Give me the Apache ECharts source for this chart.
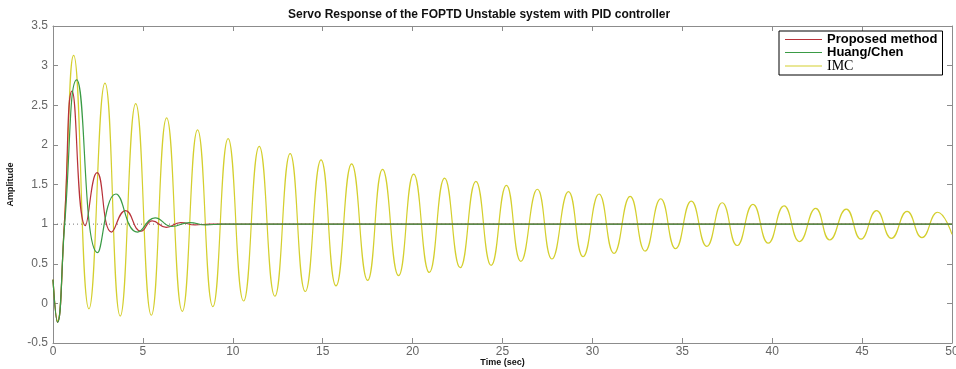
<!DOCTYPE html>
<html>
<head>
<meta charset="utf-8">
<script src="https://cdn.jsdelivr.net/npm/echarts@6/dist/echarts.min.js"></script>
<style>
  html, body { margin: 0; padding: 0; background: #fff; }
  #chart { width: 956px; height: 369px; }
</style>
</head>
<body>
<div id="chart"></div>
<script>
// [time (sec), amplitude]
const proposed = [
  [0, 0.3], [0.25, -0.24], [0.63, 1.0], [1.06, 2.68], [1.8, 0.98], [2.45, 1.65],
  [3.26, 0.9], [4.03, 1.17], [4.9, 0.91], [5.52, 1.04], [6.3, 0.96], [7.1, 1.02],
  [7.9, 0.99], [8.7, 1.0], [50, 1.0]
]
const huangChen = [
  [0, 0.3], [0.25, -0.24], [0.65, 1.0], [1.32, 2.82], [2.48, 0.64], [3.5, 1.38],
  [4.7, 0.9], [5.68, 1.08], [6.6, 0.97], [7.6, 1.02], [8.5, 0.99], [9.4, 1.0], [50, 1.0]
]
const imc = [
  [0, 0.3], [0.25, -0.22], [0.63, 1.0], [1.15, 3.13], [2.0, -0.07], [2.89, 2.78],
  [3.74, -0.16], [4.6, 2.52], [5.47, -0.15], [6.32, 2.34], [7.19, -0.1], [8.04, 2.19],
  [8.89, -0.04], [9.74, 2.08], [10.6, 0.03], [11.47, 1.98], [12.34, 0.09], [13.19, 1.89],
  [14.03, 0.15], [14.91, 1.81], [15.74, 0.22], [16.61, 1.76], [17.5, 0.29], [18.33, 1.69],
  [19.22, 0.35], [20.06, 1.63], [20.93, 0.39], [21.78, 1.58], [22.65, 0.45], [23.52, 1.54],
  [24.37, 0.48], [25.22, 1.49], [26.02, 0.53], [26.94, 1.44], [27.75, 0.56], [28.67, 1.41],
  [29.48, 0.59], [30.37, 1.38], [31.2, 0.63], [32.1, 1.35], [32.93, 0.66], [33.8, 1.32],
  [34.63, 0.69], [35.5, 1.29], [36.36, 0.72], [37.22, 1.27], [38.05, 0.73], [38.93, 1.25],
  [39.78, 0.76], [40.66, 1.23], [41.52, 0.78], [42.42, 1.2], [43.2, 0.8], [44.12, 1.19],
  [44.94, 0.81], [45.8, 1.17], [46.63, 0.82], [47.5, 1.16], [48.33, 0.83], [49.2, 1.15],
  [50, 0.87]
]
const setpoint = [[0, 1], [50, 1]]
const seriesNames = ['Proposed method', 'Huang/Chen', 'IMC']

const axisGray = '#8c8c8c'
const chart = echarts.init(document.getElementById('chart'))

function frameAxis(pos, showLabel) {
  return {
    type: 'value',
    position: pos,
    axisLine: { show: true, onZero: false, lineStyle: { color: axisGray, width: 1 } },
    axisTick: { show: true, inside: true, length: 5, lineStyle: { color: axisGray } },
    axisLabel: { show: showLabel, color: '#666', fontSize: 12, fontFamily: 'Liberation Sans' },
    splitLine: { show: false }
  }
}

const xBottom = Object.assign(frameAxis('bottom', true), {
  min: 0, max: 50, interval: 5,
  name: 'Time (sec)', nameLocation: 'middle', nameGap: 15, nameMoveOverlap: false,
  nameTextStyle: { fontWeight: 'bold', fontSize: 9, color: '#111', fontFamily: 'Liberation Sans' }
})
xBottom.axisLabel.margin = 3
const xTop = Object.assign(frameAxis('top', false), { min: 0, max: 50, interval: 5 })

const yLeft = Object.assign(frameAxis('left', true), {
  min: -0.5, max: 3.5, interval: 0.5,
  name: 'Amplitude', nameLocation: 'middle', nameGap: 38, nameMoveOverlap: false,
  nameTextStyle: { fontWeight: 'bold', fontSize: 9, color: '#111', fontFamily: 'Liberation Sans' }
})
yLeft.axisLabel.margin = 5
const yRight = Object.assign(frameAxis('right', false), { min: -0.5, max: 3.5, interval: 0.5 })

function curve(name, data, color, z) {
  return {
    name, type: 'line', data, smooth: 0.5, showSymbol: false, z,
    lineStyle: { color, width: 1.2 }, itemStyle: { color }
  }
}

chart.setOption({
  animation: false,
  title: {
    text: 'Servo Response of the FOPTD Unstable system with PID controller',
    left: 283, top: 4,
    textStyle: { fontSize: 12, fontWeight: 'bold', color: '#111', fontFamily: 'Liberation Sans' }
  },
  grid: { left: 53, right: 4, top: 26, bottom: 26, containLabel: false, outerBoundsMode: 'none' },
  legend: {
    data: [
      { name: seriesNames[0], textStyle: { fontWeight: 'bold', fontFamily: 'Liberation Sans', fontSize: 13 } },
      { name: seriesNames[1], textStyle: { fontWeight: 'bold', fontFamily: 'Liberation Sans', fontSize: 13 } },
      { name: seriesNames[2], textStyle: { fontWeight: 'normal', fontFamily: 'Liberation Serif', fontSize: 14 } }
    ],
    orient: 'vertical', left: 779, top: 31,
    icon: 'rect', itemWidth: 37, itemHeight: 1, itemGap: 0,
    padding: [2, 5, 2, 6],
    borderColor: '#000', borderWidth: 1, backgroundColor: '#fff',
    textStyle: { color: '#000', lineHeight: 13 }
  },
  xAxis: [xBottom, xTop],
  yAxis: [yLeft, yRight],
  series: [
    {
      name: 'setpoint', type: 'line', data: setpoint, showSymbol: false, z: 1,
      lineStyle: { color: '#777', width: 1, type: [1, 3] }
    },
    curve(seriesNames[2], imc, '#d4cf2e', 2),
    curve(seriesNames[0], proposed, '#b8323a', 3),
    curve(seriesNames[1], huangChen, '#3a9b45', 4)
  ]
})
</script>
</body>
</html>
